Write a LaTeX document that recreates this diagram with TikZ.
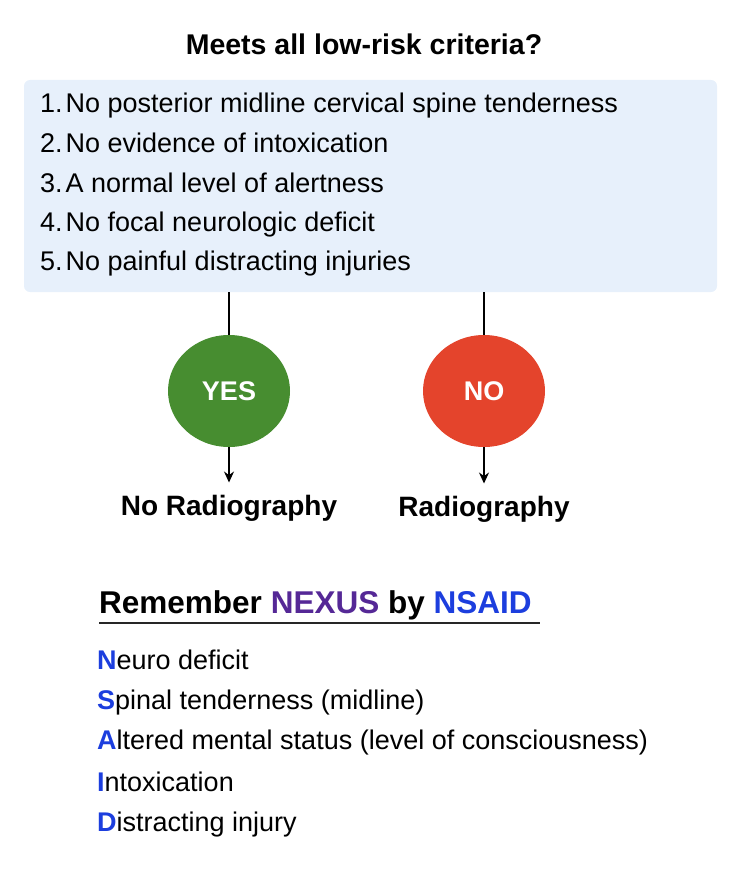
\documentclass[tikz,border=0pt]{standalone}
\usepackage{fontspec}
\setmainfont{Liberation Sans}
\usetikzlibrary{shapes.geometric,arrows.meta}
\definecolor{boxblue}{RGB}{231,240,251}
\definecolor{yesgreen}{RGB}{71,141,48}
\definecolor{nored}{RGB}{228,68,44}
\definecolor{nexuspurple}{RGB}{85,40,150}
\definecolor{nsaidblue}{RGB}{28,62,222}

\begin{document}
\begin{tikzpicture}[x=1pt, y=-1pt,
    crit/.style={rectangle, rounded corners=6pt, fill=boxblue,
                 minimum width=693pt, minimum height=212pt, inner sep=0pt},
    item/.style={anchor=base west, inner sep=0pt,
                 font=\fontsize{27}{32}\selectfont},
    ans/.style={ellipse, minimum width=122pt, minimum height=112pt,
                inner sep=0pt, text=white, font=\fontsize{27}{30}\selectfont\bfseries},
    res/.style={anchor=base, inner xsep=0pt, inner ysep=12pt,
                font=\fontsize{28}{32}\selectfont\bfseries},
    arr/.style={-{Stealth[length=11pt, width=10pt]}, line width=1.3pt}]

    \useasboundingbox (0,0) rectangle (736,888);

    % question and criteria
    \node[anchor=base, font=\fontsize{28.5}{34}\selectfont\bfseries] (ask) at (364,55) {Meets all low-risk criteria?};
    \node[crit] (crit) at (370.5,186) {};
    \node[item] (c1) at (40,113) {1.\hspace{3pt}No posterior midline cervical spine tenderness};
    \node[item] (c2) at (40,152) {2.\hspace{3pt}No evidence of intoxication};
    \node[item] (c3) at (40,192) {3.\hspace{3pt}A normal level of alertness};
    \node[item] (c4) at (40,231) {4.\hspace{3pt}No focal neurologic deficit};
    \node[item] (c5) at (40,270) {5.\hspace{3pt}No painful distracting injuries};

    % answers
    \node[ans, fill=yesgreen] (yes) at (229,391) {YES};
    \node[ans, fill=nored]    (no)  at (484,391) {NO};
    \node[res] (norad) at (229,515) {No Radiography};
    \node[res] (rad)   at (484,516) {Radiography};

    \draw[line width=1.3pt] (yes.north |- crit.south) -- (yes.north);
    \draw[line width=1.3pt] (no.north |- crit.south) -- (no.north);
    \draw[arr] (yes) -- (norad);
    \draw[arr] (no)  -- (rad);

    % mnemonic
    \node[anchor=base west, inner sep=0pt, font=\fontsize{31.5}{36}\selectfont\bfseries] (remember) at (99,613)
        {Remember \textcolor{nexuspurple}{NEXUS} by \textcolor{nsaidblue}{NSAID}};
    \draw[line width=1.6pt, black!85] ([yshift=-10pt]remember.base west) -- ([xshift=8pt, yshift=-10pt]remember.base east);

    \node[item] (n1) at (97,669) {\textcolor{nsaidblue}{\bfseries N}euro deficit};
    \node[item] (n2) at (97,709) {\textcolor{nsaidblue}{\bfseries S}pinal tenderness (midline)};
    \node[item] (n3) at (97,749) {\textcolor{nsaidblue}{\bfseries A}ltered mental status (level of consciousness)};
    \node[item] (n4) at (97,791) {\textcolor{nsaidblue}{\bfseries I}ntoxication};
    \node[item] (n5) at (97,831) {\textcolor{nsaidblue}{\bfseries D}istracting injury};

\end{tikzpicture}
\end{document}
